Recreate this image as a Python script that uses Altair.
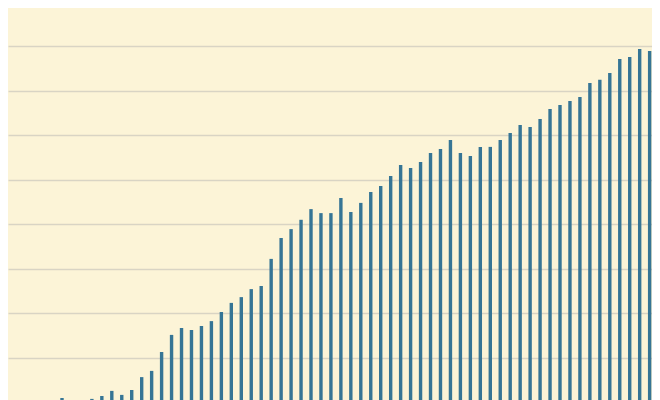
import altair as alt
import pandas as pd

# bar index (position in the series) and bar values
periods = list(range(60))
values = [
    0.9, 0.3, 0.2, 0.7, 1.35, 2.5, 1.6, 2.7, 5.6, 7.0,
    11.25, 15.1, 16.65, 16.2, 17.1, 18.2, 20.25, 22.3, 23.6, 25.4,
    26.1, 32.2, 36.9, 38.9, 41.0, 43.4, 42.5, 42.5, 45.9, 42.75,
    44.8, 47.25, 48.6, 50.85, 53.3, 52.65, 54.0, 56.0, 56.9, 58.95,
    56.0, 55.35, 57.4, 57.4, 58.95, 60.5, 62.3, 61.9, 63.7, 65.9,
    66.8, 67.7, 68.6, 71.8, 72.5, 74.0, 77.2, 77.6, 79.4, 79.0,
]
baseline = [0] * len(values)
grid_values = [10, 20, 30, 40, 50, 60, 70, 80]

df = pd.DataFrame({"period": periods, "value": values, "base": baseline})

BG = "#fcf4d7"
BAR = "#367595"
GRID = "#d9d4c4"

chart = (
    alt.Chart(df)
    .mark_bar(color=BAR, width=3.4, clip=True)
    .encode(
        x=alt.X("period:Q", axis=None,
                scale=alt.Scale(domain=[-5.422, 59.237], nice=False, zero=False, padding=0)),
        y=alt.Y("value:Q",
                scale=alt.Scale(domain=[0.45, 88.65], nice=False, zero=False),
                axis=alt.Axis(values=grid_values, labels=False, ticks=False,
                              domain=False, title="", grid=True,
                              gridColor=GRID, gridWidth=1.4)),
        y2=alt.Y2("base:Q"),
    )
    .properties(width=644, height=392, padding=0, background=BG,
                autosize=alt.AutoSizeParams(type="none"))
    .configure_view(strokeWidth=0, fill=BG)
)

chart.save("out.html", embed_options={"renderer": "svg", "actions": False})
